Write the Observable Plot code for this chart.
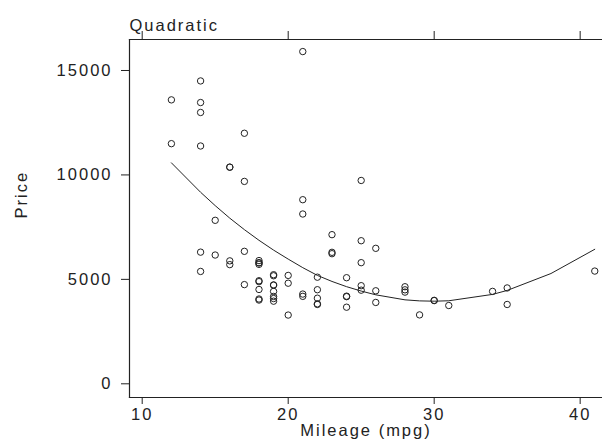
<!DOCTYPE html>
<html>
<head>
<meta charset="utf-8">
<script src="https://cdn.jsdelivr.net/npm/d3@7"></script>
<script src="https://cdn.jsdelivr.net/npm/@observablehq/plot@0.6"></script>
<style>
  html, body { margin: 0; padding: 0; background: #fff; overflow: hidden; }
</style>
</head>
<body>
<div id="chart"></div>
<script>
// Observed data: mileage (mpg) and price for each car
const mpg = [22,17,22,20,15,18,26,20,16,19,14,14,21,29,16,22,22,24,19,30,18,16,17,28,21,12,12,14,22,14,15,18,14,20,21,19,19,18,19,24,16,28,34,25,26,18,18,18,19,19,19,24,17,23,25,23,35,24,21,25,28,30,14,26,35,18,31,18,23,41,25,25,17,21];
const price = [4099,4749,3799,4816,7827,5788,4453,5189,10372,4082,11385,14500,15906,3299,5705,4504,5104,3667,3955,3984,4010,5886,6342,4389,4187,11497,13594,13466,3829,5379,6165,4516,6303,3291,8814,5172,4733,4890,4181,4195,10371,4647,4425,4482,6486,4060,5798,4934,5222,4723,4424,4172,9690,6295,9735,6229,4589,5079,8129,5799,4499,3995,12990,3895,3798,5899,3748,5719,7140,5397,4697,6850,11995,4296];

// Quadratic fit line at each distinct mpg value
const fitMpg   = [12,14,15,16,17,18,19,20,21,22,23,24,25,26,28,29,30,31,34,35,38,41];
const fitPrice = [10580,9170,8530,7930,7380,6870,6400,5970,5560,5190,4900,4650,4440,4260,4020,3970,3955,3975,4280,4470,5280,6440];

// Axis ticks
const xTicks = [10,20,30,40];
const yTicks = [0,5000,10000,15000];

const title = "Quadratic";
const xLabel = "Mileage (mpg)";
const yLabel = "Price";

const points = mpg.map((m, i) => ({mpg: m, price: price[i]}));
const fit = fitMpg.map((m, i) => ({mpg: m, price: fitPrice[i]}));

const ink = "#222";

const chart = Plot.plot({
  width: 602,
  height: 444,
  marginLeft: 129,
  marginRight: 0,
  marginTop: 39,
  marginBottom: 47,
  style: {fontFamily: "'Liberation Sans', Arial, sans-serif", fontSize: "16.5px", letterSpacing: "2px", color: ink, background: "#fff"},
  x: {domain: [9.13, 41.53]},
  y: {domain: [-656, 16484]},
  marks: [
    Plot.frame({anchor: "left", stroke: ink, strokeWidth: 1.2}),
    Plot.frame({anchor: "bottom", stroke: ink, strokeWidth: 1.2}),
    Plot.frame({anchor: "top", stroke: ink, strokeWidth: 1.2}),
    Plot.axisX({anchor: "bottom", ticks: xTicks, tickSize: 7, tickPadding: 4, label: null, fontSize: 16.5, stroke: ink}),
    Plot.axisX({anchor: "top", ticks: xTicks, tickSize: 9, tickFormat: () => "", label: null, stroke: ink}),
    Plot.axisY({anchor: "left", ticks: yTicks, tickSize: 8, tickPadding: 9, tickFormat: d => String(d), label: null, fontSize: 16.5, stroke: ink}),
    Plot.line(fit, {x: "mpg", y: "price", stroke: ink, strokeWidth: 1}),
    Plot.dot(points, {x: "mpg", y: "price", r: 3.2, stroke: ink, strokeWidth: 1, fill: "none"}),
    Plot.text([title], {frameAnchor: "top-left", dy: -20, textAnchor: "start", fontSize: 16.5, fill: ink}),
    Plot.text([yLabel], {frameAnchor: "left", dx: -108, rotate: -90, fontSize: 16.5, fill: ink}),
    Plot.text([xLabel], {frameAnchor: "bottom", dy: 38, fontSize: 16.5, fill: ink})
  ]
});

document.getElementById("chart").appendChild(chart);
</script>
</body>
</html>
